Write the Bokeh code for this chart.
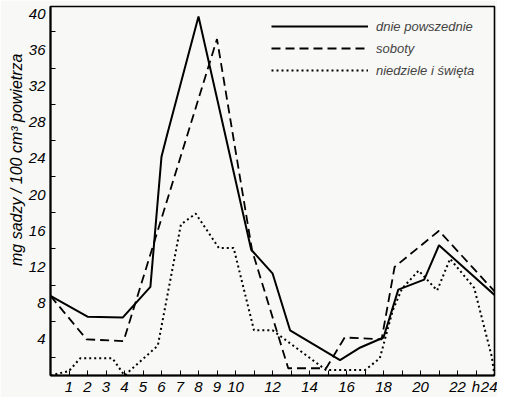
from bokeh.plotting import figure
from bokeh.models import FixedTicker, Legend, LegendItem, Range1d, Title
from bokeh.embed import file_html
from bokeh.resources import INLINE

# --- data (hours, mg soot / 100 cm3 air) ---
hours_weekday = [0, 2.0, 3.9, 5.4, 6.0, 6.3, 8.0, 10.85, 12.0, 12.95, 15.65, 16.75, 18.0, 18.8, 20.2, 21.0, 24]
weekday = [8.8, 6.5, 6.4, 9.8, 24.2, 26.6, 39.7, 13.9, 11.3, 5.0, 1.7, 3.1, 4.2, 9.5, 10.6, 14.4, 8.9]

hours_saturday = [0, 1.95, 3.95, 9.0, 10.9, 12.85, 14.9, 15.9, 17.9, 18.6, 21.0, 24]
saturday = [8.8, 4.0, 3.8, 37.2, 13.8, 0.8, 0.8, 4.2, 4.0, 12.0, 16.0, 9.3]

hours_sunday = [0, 1.0, 1.6, 3.35, 4.0, 5.8, 7.05, 7.85, 9.1, 9.9, 11.0, 12.0, 14.9, 17.0, 17.8, 18.5, 19.0, 19.9, 20.9, 21.6, 22.9, 23.85, 24]
sunday = [0, 0.5, 1.9, 1.9, 0.0, 3.3, 16.7, 17.9, 14.1, 14.1, 5.0, 5.0, 0.6, 0.6, 1.9, 7.2, 9.6, 11.6, 9.4, 12.9, 9.7, 2.1, 0.0]

series_names = ["dnie powszednie", "soboty", "niedziele i święta"]
y_label = "mg sadzy / 100 cm³ powietrza"
y_ticks = [4, 8, 12, 16, 20, 24, 28, 32, 36, 40]
y_minor = [2, 6, 10, 14, 18, 22, 26, 30, 34, 38]
x_ticks = list(range(1, 25))
x_overrides = {11: "", 13: "", 15: "", 17: "", 19: "", 21: "", 23: "h"}

BG = "#f8f8f6"
FONT = "Liberation Sans"

p = figure(width=497, height=397, output_backend="svg", toolbar_location=None,
           x_range=Range1d(0, 24), y_range=Range1d(0, 40.8),
           min_border_left=50, min_border_right=3, min_border_top=6, min_border_bottom=19)
p.background_fill_color = BG
p.border_fill_color = BG
p.grid.visible = False
p.outline_line_color = "black"
p.outline_line_width = 1.6

r1 = p.line(hours_weekday, weekday, line_color="black", line_width=2)
r2 = p.line(hours_saturday, saturday, line_color="black", line_width=1.8, line_dash="9 5")
r3 = p.line(hours_sunday, sunday, line_color="black", line_width=2, line_dash="2 3")

xa = p.xaxis[0]
xa.ticker = FixedTicker(ticks=x_ticks)
xa.major_label_overrides = x_overrides
xa.major_tick_in = 5
xa.major_tick_out = 0
xa.minor_tick_in = 0
xa.minor_tick_out = 0
xa.axis_line_width = 2
xa.major_label_standoff = 2
xa.major_label_text_font = FONT
xa.major_label_text_font_style = "italic"
xa.major_label_text_font_size = "15px"
xa.major_label_text_color = "black"

ya = p.yaxis[0]
ya.ticker = FixedTicker(ticks=y_ticks, minor_ticks=y_minor)
ya.major_tick_in = 0
ya.major_tick_out = 0
ya.minor_tick_in = 5
ya.minor_tick_out = 0
ya.axis_line_width = 2
ya.major_label_standoff = 5
ya.major_label_text_font = FONT
ya.major_label_text_font_style = "italic"
ya.major_label_text_font_size = "15px"
ya.major_label_text_color = "black"

ttl = Title(text=y_label, align="right", offset=47, standoff=2,
            text_font=FONT, text_font_style="italic", text_font_size="16px",
            text_color="black")
p.add_layout(ttl, "left")

legend = Legend(items=[LegendItem(label=series_names[0], renderers=[r1]),
                       LegendItem(label=series_names[1], renderers=[r2]),
                       LegendItem(label=series_names[2], renderers=[r3])],
                location=(221, 295), glyph_width=97, glyph_height=20, label_height=20,
                spacing=2, padding=0, margin=0, border_line_color=None,
                background_fill_alpha=0, label_standoff=8,
                label_text_font=FONT, label_text_font_style="italic",
                label_text_font_size="13px")
p.add_layout(legend)

open("out.html", "w").write(file_html(p, INLINE))
